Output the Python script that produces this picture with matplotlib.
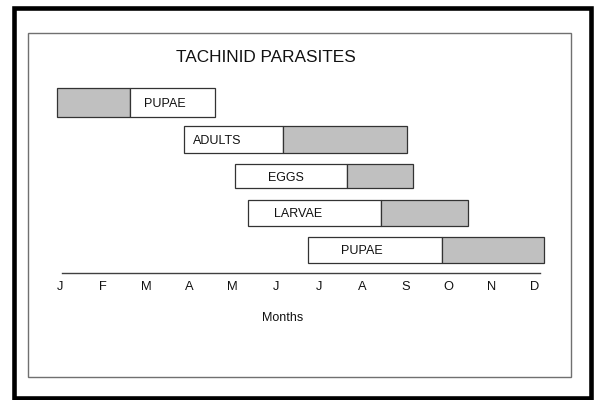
import matplotlib
matplotlib.use("Agg")
import matplotlib.pyplot as plt
from matplotlib.patches import Rectangle

plt.rcParams['font.family'] = ['Liberation Sans', 'DejaVu Sans']

# ---- data ----
months = ["J", "F", "M", "A", "M", "J", "J", "A", "S", "O", "N", "D"]
stages = ["PUPAE", "ADULTS", "EGGS", "LARVAE", "PUPAE"]
start = [-0.06, 2.88, 4.05, 4.36, 5.75]
split = [1.62, 5.17, 6.64, 7.43, 8.85]
end = [3.59, 8.03, 8.17, 9.46, 11.21]
gray_first = [True, False, False, False, False]
label_x = [2.43, 3.64, 5.23, 5.51, 6.99]
bar_h = [0.77, 0.72, 0.66, 0.70, 0.70]
title = "TACHINID PARASITES"
xlabel = "Months"

W, H = 594, 400
fig = plt.figure(figsize=(W / 100, H / 100), dpi=100)

# axes geometry in pixels
x0_px = 60 - 43.18
x1_px = 60 + 43.18 * 12
top_px, bot_px = 73, 273
ax = fig.add_axes([x0_px / W, 1 - bot_px / H, (x1_px - x0_px) / W, (bot_px - top_px) / H])
ax.set_xlim(-1, 12)
row_px = 36.8
ax.set_ylim((bot_px - 102.5) / row_px, (top_px - 102.5) / row_px)
ax.patch.set_alpha(0)

gray = "#c0c0c0"
edge = "#333333"
for i, name in enumerate(stages):
    h = bar_h[i]
    c1, c2 = (gray, "white") if gray_first[i] else ("white", gray)
    ax.barh(i, split[i] - start[i], left=start[i], height=h, color=c1,
            edgecolor=edge, linewidth=0.9)
    ax.barh(i, end[i] - split[i], left=split[i], height=h, color=c2,
            edgecolor=edge, linewidth=0.9)
    ax.text(label_x[i], i, name, ha="center", va="center_baseline", fontsize=9, color="#111111")

for s in ["top", "left", "right"]:
    ax.spines[s].set_visible(False)
ax.spines["bottom"].set_bounds(0.04, 11.12)
ax.spines["bottom"].set_color("#404040")
ax.spines["bottom"].set_linewidth(1.0)
ax.set_yticks([])
ax.set_xticks(range(len(months)))
ax.set_xticklabels(months, fontsize=9.3)
ax.tick_params(axis="x", length=0, pad=6, colors="#111111")
ax.set_xlabel(xlabel, fontsize=9, color="#111111")
ax.xaxis.set_label_coords((283 - x0_px) / (x1_px - x0_px), -(318 - bot_px) / (bot_px - top_px))
ax.xaxis.label.set_va("center")

fig.text(266 / W, 1 - 58 / H, title, ha="center", va="center", fontsize=12.4, color="#111111")

# outer thick border
fig.patches.append(Rectangle((14 / W, 1 - 398 / H), (591 - 14) / W, (398 - 7.5) / H,
                             transform=fig.transFigure, fill=False,
                             edgecolor="black", linewidth=3.3))
# inner gray border
fig.patches.append(Rectangle((27.5 / W, 1 - 377 / H), (571 - 27.5) / W, (377 - 33) / H,
                             transform=fig.transFigure, fill=False,
                             edgecolor="#707070", linewidth=1.0))

fig.savefig("out.png", dpi=100)
